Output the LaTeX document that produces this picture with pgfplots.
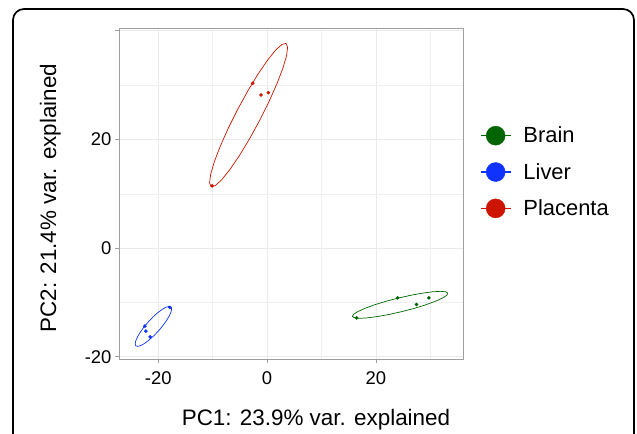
\documentclass[border=0pt]{standalone}
\usepackage{pgfplots}
\pgfplotsset{compat=1.18}
\usepackage{fontspec}
\setmainfont{Liberation Sans}

\definecolor{brain}{RGB}{0,100,0}
\definecolor{liver}{RGB}{15,50,255}
\definecolor{placenta}{RGB}{205,20,0}

\pgfplotsset{
  legkey/.style={legend image code/.code={
      \draw[line width=1.6bp] (0bp,0bp) -- (30bp,0bp);
      \fill (15bp,0bp) circle (9.5bp);}},
}

\begin{document}
\begin{tikzpicture}
\useasboundingbox (-119bp,-75bp) rectangle (518bp,359bp);
\begin{axis}[
  at={(0,0)}, anchor=south west,
  scale only axis, width=344bp, height=331bp,
  xmin=-27.2, xmax=36.0, ymin=-20.4, ymax=40.5,
  xtick={-20,0,20}, xticklabels={-20,0,20},
  ytick={-20,0,20,40}, yticklabels={-20,0,20,{}},
  minor xtick={-10,10,30}, minor ytick={-10,10,30},
  grid=both,
  major grid style={color=black!8, line width=0.7bp},
  minor grid style={color=black!6, line width=0.5bp},
  tick pos=left, tick align=outside,
  major tick length=4bp, minor tick length=0pt,
  tick style={color=gray!75, line width=0.8bp},
  axis line style={color=gray!75, line width=0.8bp},
  tick label style={font=\fontsize{18.5}{20}\selectfont, color=black},
  xticklabel style={yshift=-5bp},
  label style={font=\fontsize{22.5}{26}\selectfont},
  xlabel={PC1: 23.9\% var. explained},
  ylabel={PC2: 21.4\% var. explained},
  x label style={at={(rel axis cs:0.5727,-0.1994)}, anchor=base},
  y label style={at={(rel axis cs:-0.1831,0.486)}, anchor=base},
  legend style={at={(1.0485,0.7076)}, anchor=north west, draw=none, fill=none,
    inner sep=0pt, row sep=15bp, column sep=10bp, font=\fontsize{22}{26}\selectfont},
  legend cell align=left,
]

% confidence ellipses (outline)
\addplot[color=brain, line width=0.7bp, forget plot] coordinates {
(33.22,-8.29) (32.85,-8.04) (31.89,-7.95) (30.44,-8.03) (28.57,-8.28) (26.43,-8.67)
(24.14,-9.18) (21.89,-9.77) (19.80,-10.41) (18.03,-11.06) (16.70,-11.66) (15.90,-12.17)
(15.68,-12.57) (16.06,-12.82) (17.01,-12.91) (18.46,-12.83) (20.33,-12.58) (22.48,-12.19)
(24.76,-11.68) (27.02,-11.09) (29.10,-10.45) (30.87,-9.80) (32.20,-9.21) (33.00,-8.69)
(33.22,-8.29)
};
\addplot[color=liver, line width=0.7bp, forget plot] coordinates {
(-17.66,-10.81) (-18.01,-10.72) (-18.56,-10.88) (-19.26,-11.27) (-20.08,-11.88) (-20.95,-12.66)
(-21.81,-13.57) (-22.61,-14.52) (-23.30,-15.47) (-23.81,-16.35) (-24.13,-17.09) (-24.23,-17.65)
(-24.10,-17.99) (-23.75,-18.08) (-23.20,-17.93) (-22.50,-17.53) (-21.69,-16.92) (-20.82,-16.14)
(-19.95,-15.24) (-19.15,-14.28) (-18.47,-13.33) (-17.95,-12.45) (-17.63,-11.71) (-17.53,-11.15)
(-17.66,-10.81)
};
\addplot[color=placenta, line width=0.7bp, forget plot] coordinates {
(3.50,37.67) (2.75,37.49) (1.57,36.43) (0.07,34.55) (-1.68,31.99) (-3.54,28.91)
(-5.39,25.54) (-7.11,22.09) (-8.57,18.81) (-9.68,15.91) (-10.36,13.60) (-10.56,12.03)
(-10.28,11.31) (-9.53,11.49) (-8.35,12.55) (-6.85,14.43) (-5.10,16.99) (-3.24,20.07)
(-1.39,23.44) (0.33,26.89) (1.79,30.17) (2.90,33.07) (3.58,35.38) (3.78,36.95)
(3.50,37.67)
};

% samples
\addplot[color=brain, only marks, mark=*, mark size=1.6bp, legkey] coordinates {
(16.46,-12.84) (23.98,-9.15) (27.47,-10.37) (29.72,-9.15)
};
\addlegendentry{Brain}
\addplot[color=liver, only marks, mark=*, mark size=1.6bp, legkey] coordinates {
(-22.44,-14.36) (-22.26,-15.29) (-21.47,-16.33) (-17.85,-10.92)
};
\addlegendentry{Liver}
\addplot[color=placenta, only marks, mark=*, mark size=1.6bp, legkey] coordinates {
(-2.62,30.33) (-1.10,28.18) (0.24,28.60) (-10.09,11.47)
};
\addlegendentry{Placenta}

\end{axis}
\draw[black, line width=1.7bp, rounded corners=11bp]
  (-106bp,-110bp) -- (-106bp,350bp) -- (515bp,350bp) -- (515bp,-110bp);
\end{tikzpicture}
\end{document}
